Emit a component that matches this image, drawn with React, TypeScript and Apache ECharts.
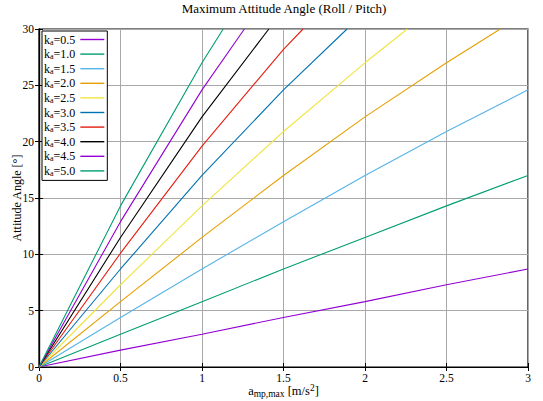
import React, { useEffect, useRef } from "react";
import * as echarts from "echarts";

const kLabels = ["0.5", "1.0", "1.5", "2.0", "2.5", "3.0", "3.5", "4.0", "4.5", "5.0"];
const colors = ["#9400d3", "#009e73", "#56b4e9", "#e69f00", "#f0e442", "#0072b2", "#e51e10", "#000000", "#9400d3", "#009e73"];

const k05 = [[0, 0], [0.5, 1.5], [1, 2.9], [1.5, 4.4], [2, 5.8], [2.5, 7.3], [3, 8.7]];
const k10 = [[0, 0], [0.5, 2.9], [1, 5.8], [1.5, 8.7], [2, 11.5], [2.5, 14.3], [3, 17.0]];
const k15 = [[0, 0], [0.5, 4.4], [1, 8.7], [1.5, 12.9], [2, 17.0], [2.5, 20.9], [3, 24.6]];
const k20 = [[0, 0], [0.5, 5.8], [1, 11.5], [1.5, 17.0], [2, 22.2], [2.5, 27.0], [2.83, 30]];
const k25 = [[0, 0], [0.5, 7.3], [1, 14.3], [1.5, 20.9], [2, 27.0], [2.26, 30]];
const k30 = [[0, 0], [0.5, 8.7], [1, 17.0], [1.5, 24.6], [1.89, 30]];
const k35 = [[0, 0], [0.5, 10.1], [1, 19.6], [1.5, 28.2], [1.62, 30]];
const k40 = [[0, 0], [0.5, 11.5], [1, 22.2], [1.41, 30]];
const k45 = [[0, 0], [0.5, 12.9], [1, 24.6], [1.26, 30]];
const k50 = [[0, 0], [0.5, 14.3], [1, 27.0], [1.13, 30]];

const seriesData = [k05, k10, k15, k20, k25, k30, k35, k40, k45, k50];

const FONT = "'Liberation Serif', 'DejaVu Serif', serif";

export default function App() {
  const ref = useRef<HTMLDivElement>(null);
  useEffect(() => {
    if (!ref.current) return;
    const chart = echarts.init(ref.current, undefined, { renderer: "svg" });
    const axisCommon = {
      type: "value",
      min: 0,
      axisLine: { show: true, lineStyle: { color: "#000", width: 1.2 } },
      axisTick: { show: true, inside: true, length: 4, lineStyle: { color: "#000" } },
      splitLine: { show: true, lineStyle: { color: "#a8a8a8", width: 1 } },
    };
    chart.setOption({
      animation: false,
      backgroundColor: "#fff",
      textStyle: { fontFamily: FONT },
      title: {
        text: "Maximum Attitude Angle (Roll / Pitch)",
        left: 284,
        textAlign: "center",
        top: 2,
        padding: 0,
        textStyle: { fontFamily: FONT, fontSize: 13, fontWeight: "normal", color: "#000" },
      },
      grid: {
        left: 39,
        right: 15,
        top: 29,
        bottom: 34,
        show: true,
        borderColor: "#000",
        borderWidth: 1.2,
        containLabel: false,
        outerBoundsMode: "none",
      },
      legend: {
        orient: "vertical",
        left: 42,
        top: 31,
        align: "right",
        padding: [2, 3, 3, 2],
        borderColor: "#000",
        borderWidth: 1,
        backgroundColor: "#fff",
        icon: "rect",
        itemWidth: 24,
        itemHeight: 1.4,
        itemGap: 1.6,
        data: kLabels.map((k) => "k_a=" + k),
        formatter: (name: string) => "{k|k}{s|a}{k|=" + name.slice(4) + "}",
        textStyle: {
          fontFamily: FONT,
          color: "#000",
          padding: [0, 0, 0, 0],
          rich: {
            k: { fontFamily: FONT, fontSize: 12, color: "#000", lineHeight: 13 },
            s: { fontFamily: FONT, fontSize: 8, color: "#000", verticalAlign: "bottom", lineHeight: 9, padding: [5, 0, 0, 0] },
          },
        },
      },
      xAxis: [
        {
          ...axisCommon,
          max: 3,
          interval: 0.5,
          position: "bottom",
          name: "{a|a}{s|mp,max}{a| [m/s}{p|2}{a|]}",
          nameLocation: "middle",
          nameGap: 15,
          nameMoveOverlap: false,
          nameTextStyle: {
            fontSize: 12,
            fontFamily: FONT,
            rich: {
              a: { fontFamily: FONT, fontSize: 12.5, color: "#000" },
              s: { fontFamily: FONT, fontSize: 9.5, color: "#000", padding: [7, 0, 0, 0] },
              p: { fontFamily: FONT, fontSize: 9.5, color: "#000", padding: [0, 0, 6, 0] },
            },
          },
          axisLabel: { fontFamily: FONT, fontSize: 11.5, color: "#000", margin: 5, formatter: (v: number) => String(v) },
        },
        {
          type: "value",
          min: 0,
          max: 3,
          interval: 0.5,
          position: "top",
          axisLine: { show: true, lineStyle: { color: "#000", width: 1.2 } },
          axisTick: { show: true, inside: true, length: 4, lineStyle: { color: "#000" } },
          axisLabel: { show: false },
          splitLine: { show: false },
        },
      ],
      yAxis: [
        {
          ...axisCommon,
          max: 30,
          interval: 5,
          position: "left",
          name: "Attitude Angle [°]",
          nameLocation: "middle",
          nameGap: 16,
          nameMoveOverlap: false,
          nameRotate: 90,
          nameTextStyle: { fontFamily: FONT, fontSize: 12, color: "#000" },
          axisLabel: { fontFamily: FONT, fontSize: 11.5, color: "#000", margin: 5 },
        },
        {
          type: "value",
          min: 0,
          max: 30,
          interval: 5,
          position: "right",
          axisLine: { show: true, lineStyle: { color: "#000", width: 1.2 } },
          axisTick: { show: true, inside: true, length: 4, lineStyle: { color: "#000" } },
          axisLabel: { show: false },
          splitLine: { show: false },
        },
      ],
      series: seriesData.map((d, i) => ({
        type: "line",
        name: "k_a=" + kLabels[i],
        data: d,
        xAxisIndex: 0,
        yAxisIndex: 0,
        symbol: "none",
        smooth: false,
        clip: true,
        color: colors[i],
        lineStyle: { color: colors[i], width: 1.1 },
      })),
    });
    return () => chart.dispose();
  }, []);
  return <div ref={ref} style={{ width: 543, height: 401, position: "absolute", left: 0, top: 0 }} />;
}
